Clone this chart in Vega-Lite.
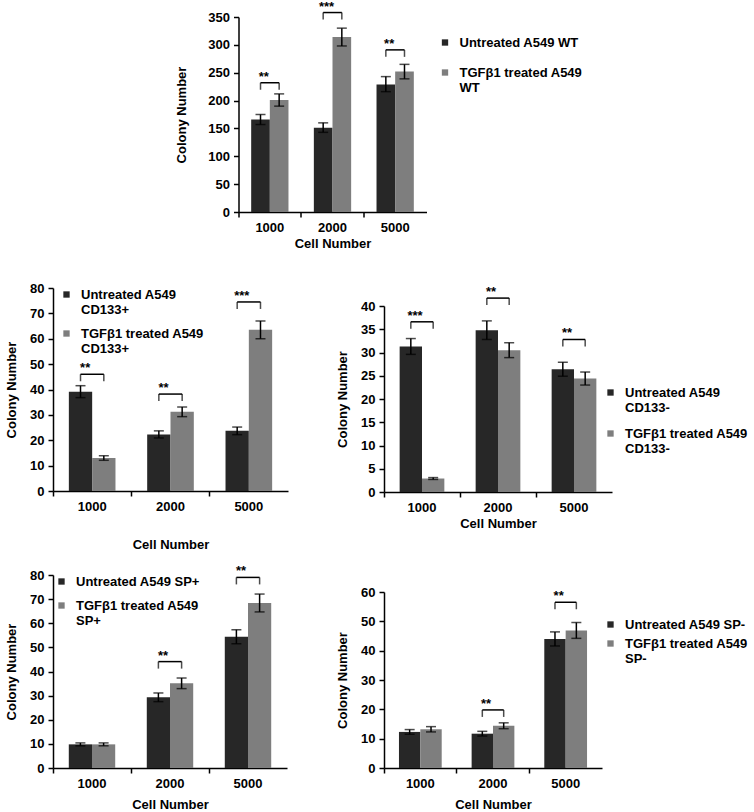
{
 "$schema": "https://vega.github.io/schema/vega-lite/v6.json",
 "padding": {"left": 5, "top": 0, "right": 0, "bottom": 0},
 "background": "white",
 "config": {
  "view": {"stroke": null},
  "font": "Liberation Sans",
  "axis": {"domainColor": "black", "domainWidth": 1.5, "tickColor": "black", "tickWidth": 1.5, "tickSize": 5, "labelFont": "Liberation Sans", "labelFontSize": 13, "labelFontWeight": "bold", "labelColor": "black", "labelPadding": 4, "titleFont": "Liberation Sans", "titleFontSize": 13, "titleFontWeight": "bold", "titleColor": "black", "grid": false},
  "axisX": {"labelAngle": 0},
  "axisY": {"titlePadding": 11},
  "legend": {"labelFont": "Liberation Sans", "labelFontSize": 13, "labelFontWeight": "bold", "labelColor": "black", "symbolType": "square", "symbolSize": 40, "symbolStrokeWidth": 0, "labelOffset": 8, "padding": 0, "rowPadding": 8, "labelLimit": 300}
 },
 "datasets": {
  "bars": [
   {"panel": "WT", "cell": "1000", "group": "Untreated A549 WT", "value": 166, "lo": 157, "hi": 175},
   {"panel": "WT", "cell": "1000", "group": "TGFβ1 treated A549 WT", "value": 201, "lo": 190, "hi": 212},
   {"panel": "WT", "cell": "2000", "group": "Untreated A549 WT", "value": 151, "lo": 143, "hi": 160},
   {"panel": "WT", "cell": "2000", "group": "TGFβ1 treated A549 WT", "value": 314, "lo": 298, "hi": 330},
   {"panel": "WT", "cell": "5000", "group": "Untreated A549 WT", "value": 229, "lo": 216, "hi": 243},
   {"panel": "WT", "cell": "5000", "group": "TGFβ1 treated A549 WT", "value": 252, "lo": 239, "hi": 265},
   {"panel": "CD133p", "cell": "1000", "group": "Untreated A549 CD133+", "value": 39.1, "lo": 36.8, "hi": 41.5},
   {"panel": "CD133p", "cell": "1000", "group": "TGFβ1 treated A549 CD133+", "value": 13.0, "lo": 12.1, "hi": 13.9},
   {"panel": "CD133p", "cell": "2000", "group": "Untreated A549 CD133+", "value": 22.3, "lo": 20.9, "hi": 23.7},
   {"panel": "CD133p", "cell": "2000", "group": "TGFβ1 treated A549 CD133+", "value": 31.2, "lo": 29.3, "hi": 33.1},
   {"panel": "CD133p", "cell": "5000", "group": "Untreated A549 CD133+", "value": 23.7, "lo": 22.2, "hi": 25.2},
   {"panel": "CD133p", "cell": "5000", "group": "TGFβ1 treated A549 CD133+", "value": 63.5, "lo": 60.0, "hi": 67.0},
   {"panel": "CD133n", "cell": "1000", "group": "Untreated A549 CD133-", "value": 31.3, "lo": 29.6, "hi": 33.0},
   {"panel": "CD133n", "cell": "1000", "group": "TGFβ1 treated A549 CD133-", "value": 2.9, "lo": 2.7, "hi": 3.1},
   {"panel": "CD133n", "cell": "2000", "group": "Untreated A549 CD133-", "value": 34.8, "lo": 32.8, "hi": 36.8},
   {"panel": "CD133n", "cell": "2000", "group": "TGFβ1 treated A549 CD133-", "value": 30.5, "lo": 28.9, "hi": 32.1},
   {"panel": "CD133n", "cell": "5000", "group": "Untreated A549 CD133-", "value": 26.4, "lo": 24.9, "hi": 27.9},
   {"panel": "CD133n", "cell": "5000", "group": "TGFβ1 treated A549 CD133-", "value": 24.4, "lo": 23.0, "hi": 25.8},
   {"panel": "SPp", "cell": "1000", "group": "Untreated A549 SP+", "value": 9.8, "lo": 9.2, "hi": 10.4},
   {"panel": "SPp", "cell": "1000", "group": "TGFβ1 treated A549 SP+", "value": 9.8, "lo": 9.2, "hi": 10.4},
   {"panel": "SPp", "cell": "2000", "group": "Untreated A549 SP+", "value": 29.3, "lo": 27.5, "hi": 31.1},
   {"panel": "SPp", "cell": "2000", "group": "TGFβ1 treated A549 SP+", "value": 35.1, "lo": 32.9, "hi": 37.3},
   {"panel": "SPp", "cell": "5000", "group": "Untreated A549 SP+", "value": 54.4, "lo": 51.5, "hi": 57.3},
   {"panel": "SPp", "cell": "5000", "group": "TGFβ1 treated A549 SP+", "value": 68.4, "lo": 64.7, "hi": 72.1},
   {"panel": "SPn", "cell": "1000", "group": "Untreated A549 SP-", "value": 12.3, "lo": 11.5, "hi": 13.1},
   {"panel": "SPn", "cell": "1000", "group": "TGFβ1 treated A549 SP-", "value": 13.2, "lo": 12.3, "hi": 14.1},
   {"panel": "SPn", "cell": "2000", "group": "Untreated A549 SP-", "value": 11.7, "lo": 10.9, "hi": 12.5},
   {"panel": "SPn", "cell": "2000", "group": "TGFβ1 treated A549 SP-", "value": 14.4, "lo": 13.4, "hi": 15.4},
   {"panel": "SPn", "cell": "5000", "group": "Untreated A549 SP-", "value": 44.0, "lo": 41.6, "hi": 46.4},
   {"panel": "SPn", "cell": "5000", "group": "TGFβ1 treated A549 SP-", "value": 46.9, "lo": 44.2, "hi": 49.6}
  ],
  "brackets": [
   {"panel": "WT", "cell": "1000", "side": "L", "group": "Untreated A549 WT", "y": 232, "stars": "**"},
   {"panel": "WT", "cell": "1000", "side": "R", "group": "TGFβ1 treated A549 WT", "y": 232, "stars": "**"},
   {"panel": "WT", "cell": "2000", "side": "L", "group": "Untreated A549 WT", "y": 358, "stars": "***"},
   {"panel": "WT", "cell": "2000", "side": "R", "group": "TGFβ1 treated A549 WT", "y": 358, "stars": "***"},
   {"panel": "WT", "cell": "5000", "side": "L", "group": "Untreated A549 WT", "y": 291, "stars": "**"},
   {"panel": "WT", "cell": "5000", "side": "R", "group": "TGFβ1 treated A549 WT", "y": 291, "stars": "**"},
   {"panel": "CD133p", "cell": "1000", "side": "L", "group": "Untreated A549 CD133+", "y": 46.0, "stars": "**"},
   {"panel": "CD133p", "cell": "1000", "side": "R", "group": "TGFβ1 treated A549 CD133+", "y": 46.0, "stars": "**"},
   {"panel": "CD133p", "cell": "2000", "side": "L", "group": "Untreated A549 CD133+", "y": 38.2, "stars": "**"},
   {"panel": "CD133p", "cell": "2000", "side": "R", "group": "TGFβ1 treated A549 CD133+", "y": 38.2, "stars": "**"},
   {"panel": "CD133p", "cell": "5000", "side": "L", "group": "Untreated A549 CD133+", "y": 74.5, "stars": "***"},
   {"panel": "CD133p", "cell": "5000", "side": "R", "group": "TGFβ1 treated A549 CD133+", "y": 74.5, "stars": "***"},
   {"panel": "CD133n", "cell": "1000", "side": "L", "group": "Untreated A549 CD133-", "y": 36.6, "stars": "***"},
   {"panel": "CD133n", "cell": "1000", "side": "R", "group": "TGFβ1 treated A549 CD133-", "y": 36.6, "stars": "***"},
   {"panel": "CD133n", "cell": "2000", "side": "L", "group": "Untreated A549 CD133-", "y": 41.7, "stars": "**"},
   {"panel": "CD133n", "cell": "2000", "side": "R", "group": "TGFβ1 treated A549 CD133-", "y": 41.7, "stars": "**"},
   {"panel": "CD133n", "cell": "5000", "side": "L", "group": "Untreated A549 CD133-", "y": 32.8, "stars": "**"},
   {"panel": "CD133n", "cell": "5000", "side": "R", "group": "TGFβ1 treated A549 CD133-", "y": 32.8, "stars": "**"},
   {"panel": "SPp", "cell": "2000", "side": "L", "group": "Untreated A549 SP+", "y": 44.1, "stars": "**"},
   {"panel": "SPp", "cell": "2000", "side": "R", "group": "TGFβ1 treated A549 SP+", "y": 44.1, "stars": "**"},
   {"panel": "SPp", "cell": "5000", "side": "L", "group": "Untreated A549 SP+", "y": 79.0, "stars": "**"},
   {"panel": "SPp", "cell": "5000", "side": "R", "group": "TGFβ1 treated A549 SP+", "y": 79.0, "stars": "**"},
   {"panel": "SPn", "cell": "2000", "side": "L", "group": "Untreated A549 SP-", "y": 19.8, "stars": "**"},
   {"panel": "SPn", "cell": "2000", "side": "R", "group": "TGFβ1 treated A549 SP-", "y": 19.8, "stars": "**"},
   {"panel": "SPn", "cell": "5000", "side": "L", "group": "Untreated A549 SP-", "y": 56.5, "stars": "**"},
   {"panel": "SPn", "cell": "5000", "side": "R", "group": "TGFβ1 treated A549 SP-", "y": 56.5, "stars": "**"}
  ]
 },
 "spacing": 20,
 "center": true,
 "resolve": {"scale": {"color": "independent", "xOffset": "independent"}, "legend": {"color": "independent"}},
 "vconcat": [
  {
   "width": 188, "height": 195,
   "layer": [
    {"data": {"name": "bars"}, "transform": [{"filter": "datum.panel == 'WT'"}],
     "layer": [
      {"mark": {"type": "bar"},
       "encoding": {
        "x": {"field": "cell", "type": "nominal", "title": "Cell Number", "scale": {"paddingInner": 0, "paddingOuter": 0}, "axis": {"bandPosition": 0, "titlePadding": 3}},
        "xOffset": {"field": "group", "type": "nominal", "scale": {"domain": ["Untreated A549 WT", "TGFβ1 treated A549 WT"], "paddingInner": 0, "paddingOuter": 0.68}},
        "y": {"field": "value", "type": "quantitative", "title": "Colony Number", "scale": {"domain": [0, 350], "nice": false}, "axis": {"values": [0, 50, 100, 150, 200, 250, 300, 350], "titlePadding": 19}},
        "color": {"field": "group", "type": "nominal", "scale": {"domain": ["Untreated A549 WT", "TGFβ1 treated A549 WT"], "range": ["#272727", "#7e7e7e"]}, "legend": {"title": null, "orient": "none", "legendX": 200, "legendY": 19, "rowPadding": 16, "labelExpr": "length(datum.label) > 19 ? [slice(datum.label, 0, lastindexof(datum.label, ' ')), slice(datum.label, lastindexof(datum.label, ' ') + 1)] : datum.label"}}
       }},
      {"mark": {"type": "rule", "color": "black", "strokeWidth": 1.5},
       "encoding": {"x": {"field": "cell", "type": "nominal", "title": "Cell Number", "axis": {"bandPosition": 0, "titlePadding": 3}}, "xOffset": {"field": "group", "type": "nominal"}, "y": {"field": "lo", "type": "quantitative", "title": "Colony Number", "scale": {"domain": [0, 350], "nice": false}, "axis": {"values": [0, 50, 100, 150, 200, 250, 300, 350], "titlePadding": 19}}, "y2": {"field": "hi"}}},
      {"mark": {"type": "tick", "color": "black", "size": 10, "thickness": 1.5},
       "encoding": {"x": {"field": "cell", "type": "nominal", "title": "Cell Number", "axis": {"bandPosition": 0, "titlePadding": 3}}, "xOffset": {"field": "group", "type": "nominal"}, "y": {"field": "lo", "type": "quantitative", "title": "Colony Number", "scale": {"domain": [0, 350], "nice": false}, "axis": {"values": [0, 50, 100, 150, 200, 250, 300, 350], "titlePadding": 19}}}},
      {"mark": {"type": "tick", "color": "black", "size": 10, "thickness": 1.5},
       "encoding": {"x": {"field": "cell", "type": "nominal", "title": "Cell Number", "axis": {"bandPosition": 0, "titlePadding": 3}}, "xOffset": {"field": "group", "type": "nominal"}, "y": {"field": "hi", "type": "quantitative", "title": "Colony Number", "scale": {"domain": [0, 350], "nice": false}, "axis": {"values": [0, 50, 100, 150, 200, 250, 300, 350], "titlePadding": 19}}}}
     ]},
    {"data": {"name": "brackets"}, "transform": [{"filter": "datum.panel == 'WT'"}],
     "layer": [
      {"mark": {"type": "line", "color": "black", "strokeWidth": 1.5, "xOffset": -6},
       "encoding": {"x": {"field": "cell", "type": "nominal", "title": "Cell Number", "axis": {"bandPosition": 0, "titlePadding": 3}}, "xOffset": {"field": "group", "type": "nominal"}, "y": {"field": "y", "type": "quantitative", "title": "Colony Number", "scale": {"domain": [0, 350], "nice": false}, "axis": {"values": [0, 50, 100, 150, 200, 250, 300, 350], "titlePadding": 19}}, "detail": {"field": "cell"}}},
      {"mark": {"type": "tick", "orient": "vertical", "color": "black", "size": 7, "thickness": 1.5, "yOffset": 3.5, "xOffset": -6},
       "encoding": {"x": {"field": "cell", "type": "nominal", "title": "Cell Number", "axis": {"bandPosition": 0, "titlePadding": 3}}, "xOffset": {"field": "group", "type": "nominal"}, "y": {"field": "y", "type": "quantitative", "title": "Colony Number", "scale": {"domain": [0, 350], "nice": false}, "axis": {"values": [0, 50, 100, 150, 200, 250, 300, 350], "titlePadding": 19}}}},
      {"transform": [{"filter": "datum.side == 'L'"}],
       "mark": {"type": "text", "dy": -6, "dx": -6, "fontSize": 13, "fontWeight": "bold", "color": "black"},
       "encoding": {"x": {"field": "cell", "type": "nominal", "title": "Cell Number", "axis": {"bandPosition": 0, "titlePadding": 3}}, "y": {"field": "y", "type": "quantitative", "title": "Colony Number", "scale": {"domain": [0, 350], "nice": false}, "axis": {"values": [0, 50, 100, 150, 200, 250, 300, 350], "titlePadding": 19}}, "text": {"field": "stars"}}}
     ]}
   ]
  },
  {
   "spacing": 48,
   "resolve": {"scale": {"color": "independent", "xOffset": "independent"}, "legend": {"color": "independent"}},
   "hconcat": [
    {
     "spacing": 0,
     "resolve": {"scale": {"color": "independent", "xOffset": "independent"}, "legend": {"color": "independent"}},
     "vconcat": [
      {"width": 1, "height": 1, "data": {"values": [{}]}, "mark": {"type": "text"}, "encoding": {"text": {"value": ""}}},
      {
       "spacing": 14,
       "resolve": {"scale": {"color": "independent", "xOffset": "independent"}, "legend": {"color": "independent"}},
       "vconcat": [
        {
         "width": 235, "height": 203,
         "layer": [
          {"data": {"name": "bars"}, "transform": [{"filter": "datum.panel == 'CD133p'"}],
           "layer": [
            {"mark": {"type": "bar"},
             "encoding": {
              "x": {"field": "cell", "type": "nominal", "title": "Cell Number", "scale": {"paddingInner": 0, "paddingOuter": 0}, "axis": {"bandPosition": 0, "titlePadding": 25}},
              "xOffset": {"field": "group", "type": "nominal", "scale": {"domain": ["Untreated A549 CD133+", "TGFβ1 treated A549 CD133+"], "paddingInner": 0, "paddingOuter": 0.68}},
              "y": {"field": "value", "type": "quantitative", "title": "Colony Number", "scale": {"domain": [0, 80], "nice": false}, "axis": {"values": [0, 10, 20, 30, 40, 50, 60, 70, 80]}},
              "color": {"field": "group", "type": "nominal", "scale": {"domain": ["Untreated A549 CD133+", "TGFβ1 treated A549 CD133+"], "range": ["#272727", "#7e7e7e"]}, "legend": {"title": null, "orient": "none", "legendX": 7, "legendY": 0, "rowPadding": 10, "labelExpr": "length(datum.label) > 19 ? [slice(datum.label, 0, lastindexof(datum.label, ' ')), slice(datum.label, lastindexof(datum.label, ' ') + 1)] : datum.label"}}
             }},
            {"mark": {"type": "rule", "color": "black", "strokeWidth": 1.5},
             "encoding": {"x": {"field": "cell", "type": "nominal", "title": "Cell Number", "axis": {"bandPosition": 0, "titlePadding": 25}}, "xOffset": {"field": "group", "type": "nominal"}, "y": {"field": "lo", "type": "quantitative", "title": "Colony Number", "scale": {"domain": [0, 80], "nice": false}, "axis": {"values": [0, 10, 20, 30, 40, 50, 60, 70, 80]}}, "y2": {"field": "hi"}}},
            {"mark": {"type": "tick", "color": "black", "size": 10, "thickness": 1.5},
             "encoding": {"x": {"field": "cell", "type": "nominal", "title": "Cell Number", "axis": {"bandPosition": 0, "titlePadding": 25}}, "xOffset": {"field": "group", "type": "nominal"}, "y": {"field": "lo", "type": "quantitative", "title": "Colony Number", "scale": {"domain": [0, 80], "nice": false}, "axis": {"values": [0, 10, 20, 30, 40, 50, 60, 70, 80]}}}},
            {"mark": {"type": "tick", "color": "black", "size": 10, "thickness": 1.5},
             "encoding": {"x": {"field": "cell", "type": "nominal", "title": "Cell Number", "axis": {"bandPosition": 0, "titlePadding": 25}}, "xOffset": {"field": "group", "type": "nominal"}, "y": {"field": "hi", "type": "quantitative", "title": "Colony Number", "scale": {"domain": [0, 80], "nice": false}, "axis": {"values": [0, 10, 20, 30, 40, 50, 60, 70, 80]}}}}
           ]},
          {"data": {"name": "brackets"}, "transform": [{"filter": "datum.panel == 'CD133p'"}],
           "layer": [
            {"mark": {"type": "line", "color": "black", "strokeWidth": 1.5, "xOffset": -7},
             "encoding": {"x": {"field": "cell", "type": "nominal", "title": "Cell Number", "axis": {"bandPosition": 0, "titlePadding": 25}}, "xOffset": {"field": "group", "type": "nominal"}, "y": {"field": "y", "type": "quantitative", "title": "Colony Number", "scale": {"domain": [0, 80], "nice": false}, "axis": {"values": [0, 10, 20, 30, 40, 50, 60, 70, 80]}}, "detail": {"field": "cell"}}},
            {"mark": {"type": "tick", "orient": "vertical", "color": "black", "size": 7, "thickness": 1.5, "yOffset": 3.5, "xOffset": -7},
             "encoding": {"x": {"field": "cell", "type": "nominal", "title": "Cell Number", "axis": {"bandPosition": 0, "titlePadding": 25}}, "xOffset": {"field": "group", "type": "nominal"}, "y": {"field": "y", "type": "quantitative", "title": "Colony Number", "scale": {"domain": [0, 80], "nice": false}, "axis": {"values": [0, 10, 20, 30, 40, 50, 60, 70, 80]}}}},
            {"transform": [{"filter": "datum.side == 'L'"}],
             "mark": {"type": "text", "dy": -6, "dx": -7, "fontSize": 13, "fontWeight": "bold", "color": "black"},
             "encoding": {"x": {"field": "cell", "type": "nominal", "title": "Cell Number", "axis": {"bandPosition": 0, "titlePadding": 25}}, "y": {"field": "y", "type": "quantitative", "title": "Colony Number", "scale": {"domain": [0, 80], "nice": false}, "axis": {"values": [0, 10, 20, 30, 40, 50, 60, 70, 80]}}, "text": {"field": "stars"}}}
           ]}
         ]
        },
        {
         "width": 234, "height": 193,
         "layer": [
          {"data": {"name": "bars"}, "transform": [{"filter": "datum.panel == 'SPp'"}],
           "layer": [
            {"mark": {"type": "bar"},
             "encoding": {
              "x": {"field": "cell", "type": "nominal", "title": "Cell Number", "scale": {"paddingInner": 0, "paddingOuter": 0}, "axis": {"bandPosition": 0, "titlePadding": 8}},
              "xOffset": {"field": "group", "type": "nominal", "scale": {"domain": ["Untreated A549 SP+", "TGFβ1 treated A549 SP+"], "paddingInner": 0, "paddingOuter": 0.68}},
              "y": {"field": "value", "type": "quantitative", "title": "Colony Number", "scale": {"domain": [0, 80], "nice": false}, "axis": {"values": [0, 10, 20, 30, 40, 50, 60, 70, 80]}},
              "color": {"field": "group", "type": "nominal", "scale": {"domain": ["Untreated A549 SP+", "TGFβ1 treated A549 SP+"], "range": ["#272727", "#7e7e7e"]}, "legend": {"title": null, "orient": "none", "legendX": 2, "legendY": 0, "rowPadding": 10, "labelExpr": "length(datum.label) > 19 ? [slice(datum.label, 0, lastindexof(datum.label, ' ')), slice(datum.label, lastindexof(datum.label, ' ') + 1)] : datum.label"}}
             }},
            {"mark": {"type": "rule", "color": "black", "strokeWidth": 1.5},
             "encoding": {"x": {"field": "cell", "type": "nominal", "title": "Cell Number", "axis": {"bandPosition": 0, "titlePadding": 8}}, "xOffset": {"field": "group", "type": "nominal"}, "y": {"field": "lo", "type": "quantitative", "title": "Colony Number", "scale": {"domain": [0, 80], "nice": false}, "axis": {"values": [0, 10, 20, 30, 40, 50, 60, 70, 80]}}, "y2": {"field": "hi"}}},
            {"mark": {"type": "tick", "color": "black", "size": 10, "thickness": 1.5},
             "encoding": {"x": {"field": "cell", "type": "nominal", "title": "Cell Number", "axis": {"bandPosition": 0, "titlePadding": 8}}, "xOffset": {"field": "group", "type": "nominal"}, "y": {"field": "lo", "type": "quantitative", "title": "Colony Number", "scale": {"domain": [0, 80], "nice": false}, "axis": {"values": [0, 10, 20, 30, 40, 50, 60, 70, 80]}}}},
            {"mark": {"type": "tick", "color": "black", "size": 10, "thickness": 1.5},
             "encoding": {"x": {"field": "cell", "type": "nominal", "title": "Cell Number", "axis": {"bandPosition": 0, "titlePadding": 8}}, "xOffset": {"field": "group", "type": "nominal"}, "y": {"field": "hi", "type": "quantitative", "title": "Colony Number", "scale": {"domain": [0, 80], "nice": false}, "axis": {"values": [0, 10, 20, 30, 40, 50, 60, 70, 80]}}}}
           ]},
          {"data": {"name": "brackets"}, "transform": [{"filter": "datum.panel == 'SPp'"}],
           "layer": [
            {"mark": {"type": "line", "color": "black", "strokeWidth": 1.5, "xOffset": -7},
             "encoding": {"x": {"field": "cell", "type": "nominal", "title": "Cell Number", "axis": {"bandPosition": 0, "titlePadding": 8}}, "xOffset": {"field": "group", "type": "nominal"}, "y": {"field": "y", "type": "quantitative", "title": "Colony Number", "scale": {"domain": [0, 80], "nice": false}, "axis": {"values": [0, 10, 20, 30, 40, 50, 60, 70, 80]}}, "detail": {"field": "cell"}}},
            {"mark": {"type": "tick", "orient": "vertical", "color": "black", "size": 7, "thickness": 1.5, "yOffset": 3.5, "xOffset": -7},
             "encoding": {"x": {"field": "cell", "type": "nominal", "title": "Cell Number", "axis": {"bandPosition": 0, "titlePadding": 8}}, "xOffset": {"field": "group", "type": "nominal"}, "y": {"field": "y", "type": "quantitative", "title": "Colony Number", "scale": {"domain": [0, 80], "nice": false}, "axis": {"values": [0, 10, 20, 30, 40, 50, 60, 70, 80]}}}},
            {"transform": [{"filter": "datum.side == 'L'"}],
             "mark": {"type": "text", "dy": -6, "dx": -7, "fontSize": 13, "fontWeight": "bold", "color": "black"},
             "encoding": {"x": {"field": "cell", "type": "nominal", "title": "Cell Number", "axis": {"bandPosition": 0, "titlePadding": 8}}, "y": {"field": "y", "type": "quantitative", "title": "Colony Number", "scale": {"domain": [0, 80], "nice": false}, "axis": {"values": [0, 10, 20, 30, 40, 50, 60, 70, 80]}}, "text": {"field": "stars"}}}
           ]}
         ]
        }
       ]
      }
     ]
    },
    {
     "spacing": 4,
     "resolve": {"scale": {"color": "independent", "xOffset": "independent"}, "legend": {"color": "independent"}},
     "vconcat": [
      {"width": 1, "height": 1, "data": {"values": [{}]}, "mark": {"type": "text"}, "encoding": {"text": {"value": ""}}},
      {
       "spacing": 56,
       "resolve": {"scale": {"color": "independent", "xOffset": "independent"}, "legend": {"color": "independent"}},
       "vconcat": [
        {
         "width": 228, "height": 186,
         "layer": [
          {"data": {"name": "bars"}, "transform": [{"filter": "datum.panel == 'CD133n'"}],
           "layer": [
            {"mark": {"type": "bar"},
             "encoding": {
              "x": {"field": "cell", "type": "nominal", "title": "Cell Number", "scale": {"paddingInner": 0, "paddingOuter": 0}, "axis": {"bandPosition": 0, "titlePadding": 3}},
              "xOffset": {"field": "group", "type": "nominal", "scale": {"domain": ["Untreated A549 CD133-", "TGFβ1 treated A549 CD133-"], "paddingInner": 0, "paddingOuter": 0.7}},
              "y": {"field": "value", "type": "quantitative", "title": "Colony Number", "scale": {"domain": [0, 40], "nice": false}, "axis": {"values": [0, 5, 10, 15, 20, 25, 30, 35, 40]}},
              "color": {"field": "group", "type": "nominal", "scale": {"domain": ["Untreated A549 CD133-", "TGFβ1 treated A549 CD133-"], "range": ["#272727", "#7e7e7e"]}, "legend": {"title": null, "orient": "none", "legendX": 200, "legendY": 60, "padding": 20, "rowPadding": 12, "labelExpr": "length(datum.label) > 19 ? [slice(datum.label, 0, lastindexof(datum.label, ' ')), slice(datum.label, lastindexof(datum.label, ' ') + 1)] : datum.label"}}
             }},
            {"mark": {"type": "rule", "color": "black", "strokeWidth": 1.5},
             "encoding": {"x": {"field": "cell", "type": "nominal", "title": "Cell Number", "axis": {"bandPosition": 0, "titlePadding": 3}}, "xOffset": {"field": "group", "type": "nominal"}, "y": {"field": "lo", "type": "quantitative", "title": "Colony Number", "scale": {"domain": [0, 40], "nice": false}, "axis": {"values": [0, 5, 10, 15, 20, 25, 30, 35, 40]}}, "y2": {"field": "hi"}}},
            {"mark": {"type": "tick", "color": "black", "size": 10, "thickness": 1.5},
             "encoding": {"x": {"field": "cell", "type": "nominal", "title": "Cell Number", "axis": {"bandPosition": 0, "titlePadding": 3}}, "xOffset": {"field": "group", "type": "nominal"}, "y": {"field": "lo", "type": "quantitative", "title": "Colony Number", "scale": {"domain": [0, 40], "nice": false}, "axis": {"values": [0, 5, 10, 15, 20, 25, 30, 35, 40]}}}},
            {"mark": {"type": "tick", "color": "black", "size": 10, "thickness": 1.5},
             "encoding": {"x": {"field": "cell", "type": "nominal", "title": "Cell Number", "axis": {"bandPosition": 0, "titlePadding": 3}}, "xOffset": {"field": "group", "type": "nominal"}, "y": {"field": "hi", "type": "quantitative", "title": "Colony Number", "scale": {"domain": [0, 40], "nice": false}, "axis": {"values": [0, 5, 10, 15, 20, 25, 30, 35, 40]}}}}
           ]},
          {"data": {"name": "brackets"}, "transform": [{"filter": "datum.panel == 'CD133n'"}],
           "layer": [
            {"mark": {"type": "line", "color": "black", "strokeWidth": 1.5, "xOffset": -7},
             "encoding": {"x": {"field": "cell", "type": "nominal", "title": "Cell Number", "axis": {"bandPosition": 0, "titlePadding": 3}}, "xOffset": {"field": "group", "type": "nominal"}, "y": {"field": "y", "type": "quantitative", "title": "Colony Number", "scale": {"domain": [0, 40], "nice": false}, "axis": {"values": [0, 5, 10, 15, 20, 25, 30, 35, 40]}}, "detail": {"field": "cell"}}},
            {"mark": {"type": "tick", "orient": "vertical", "color": "black", "size": 7, "thickness": 1.5, "yOffset": 3.5, "xOffset": -7},
             "encoding": {"x": {"field": "cell", "type": "nominal", "title": "Cell Number", "axis": {"bandPosition": 0, "titlePadding": 3}}, "xOffset": {"field": "group", "type": "nominal"}, "y": {"field": "y", "type": "quantitative", "title": "Colony Number", "scale": {"domain": [0, 40], "nice": false}, "axis": {"values": [0, 5, 10, 15, 20, 25, 30, 35, 40]}}}},
            {"transform": [{"filter": "datum.side == 'L'"}],
             "mark": {"type": "text", "dy": -6, "dx": -7, "fontSize": 13, "fontWeight": "bold", "color": "black"},
             "encoding": {"x": {"field": "cell", "type": "nominal", "title": "Cell Number", "axis": {"bandPosition": 0, "titlePadding": 3}}, "y": {"field": "y", "type": "quantitative", "title": "Colony Number", "scale": {"domain": [0, 40], "nice": false}, "axis": {"values": [0, 5, 10, 15, 20, 25, 30, 35, 40]}}, "text": {"field": "stars"}}}
           ]}
         ]
        },
        {
         "width": 218, "height": 176,
         "layer": [
          {"data": {"name": "bars"}, "transform": [{"filter": "datum.panel == 'SPn'"}],
           "layer": [
            {"mark": {"type": "bar"},
             "encoding": {
              "x": {"field": "cell", "type": "nominal", "title": "Cell Number", "scale": {"paddingInner": 0, "paddingOuter": 0}, "axis": {"bandPosition": 0, "titlePadding": 8}},
              "xOffset": {"field": "group", "type": "nominal", "scale": {"domain": ["Untreated A549 SP-", "TGFβ1 treated A549 SP-"], "paddingInner": 0, "paddingOuter": 0.7}},
              "y": {"field": "value", "type": "quantitative", "title": "Colony Number", "scale": {"domain": [0, 60], "nice": false}, "axis": {"values": [0, 10, 20, 30, 40, 50, 60]}},
              "color": {"field": "group", "type": "nominal", "scale": {"domain": ["Untreated A549 SP-", "TGFβ1 treated A549 SP-"], "range": ["#272727", "#7e7e7e"]}, "legend": {"title": null, "orient": "none", "legendX": 220, "legendY": 26, "rowPadding": 5, "labelExpr": "length(datum.label) > 19 ? [slice(datum.label, 0, lastindexof(datum.label, ' ')), slice(datum.label, lastindexof(datum.label, ' ') + 1)] : datum.label"}}
             }},
            {"mark": {"type": "rule", "color": "black", "strokeWidth": 1.5},
             "encoding": {"x": {"field": "cell", "type": "nominal", "title": "Cell Number", "axis": {"bandPosition": 0, "titlePadding": 8}}, "xOffset": {"field": "group", "type": "nominal"}, "y": {"field": "lo", "type": "quantitative", "title": "Colony Number", "scale": {"domain": [0, 60], "nice": false}, "axis": {"values": [0, 10, 20, 30, 40, 50, 60]}}, "y2": {"field": "hi"}}},
            {"mark": {"type": "tick", "color": "black", "size": 10, "thickness": 1.5},
             "encoding": {"x": {"field": "cell", "type": "nominal", "title": "Cell Number", "axis": {"bandPosition": 0, "titlePadding": 8}}, "xOffset": {"field": "group", "type": "nominal"}, "y": {"field": "lo", "type": "quantitative", "title": "Colony Number", "scale": {"domain": [0, 60], "nice": false}, "axis": {"values": [0, 10, 20, 30, 40, 50, 60]}}}},
            {"mark": {"type": "tick", "color": "black", "size": 10, "thickness": 1.5},
             "encoding": {"x": {"field": "cell", "type": "nominal", "title": "Cell Number", "axis": {"bandPosition": 0, "titlePadding": 8}}, "xOffset": {"field": "group", "type": "nominal"}, "y": {"field": "hi", "type": "quantitative", "title": "Colony Number", "scale": {"domain": [0, 60], "nice": false}, "axis": {"values": [0, 10, 20, 30, 40, 50, 60]}}}}
           ]},
          {"data": {"name": "brackets"}, "transform": [{"filter": "datum.panel == 'SPn'"}],
           "layer": [
            {"mark": {"type": "line", "color": "black", "strokeWidth": 1.5, "xOffset": -7},
             "encoding": {"x": {"field": "cell", "type": "nominal", "title": "Cell Number", "axis": {"bandPosition": 0, "titlePadding": 8}}, "xOffset": {"field": "group", "type": "nominal"}, "y": {"field": "y", "type": "quantitative", "title": "Colony Number", "scale": {"domain": [0, 60], "nice": false}, "axis": {"values": [0, 10, 20, 30, 40, 50, 60]}}, "detail": {"field": "cell"}}},
            {"mark": {"type": "tick", "orient": "vertical", "color": "black", "size": 7, "thickness": 1.5, "yOffset": 3.5, "xOffset": -7},
             "encoding": {"x": {"field": "cell", "type": "nominal", "title": "Cell Number", "axis": {"bandPosition": 0, "titlePadding": 8}}, "xOffset": {"field": "group", "type": "nominal"}, "y": {"field": "y", "type": "quantitative", "title": "Colony Number", "scale": {"domain": [0, 60], "nice": false}, "axis": {"values": [0, 10, 20, 30, 40, 50, 60]}}}},
            {"transform": [{"filter": "datum.side == 'L'"}],
             "mark": {"type": "text", "dy": -6, "dx": -7, "fontSize": 13, "fontWeight": "bold", "color": "black"},
             "encoding": {"x": {"field": "cell", "type": "nominal", "title": "Cell Number", "axis": {"bandPosition": 0, "titlePadding": 8}}, "y": {"field": "y", "type": "quantitative", "title": "Colony Number", "scale": {"domain": [0, 60], "nice": false}, "axis": {"values": [0, 10, 20, 30, 40, 50, 60]}}, "text": {"field": "stars"}}}
           ]}
         ]
        }
       ]
      }
     ]
    }
   ]
  }
 ]
}
